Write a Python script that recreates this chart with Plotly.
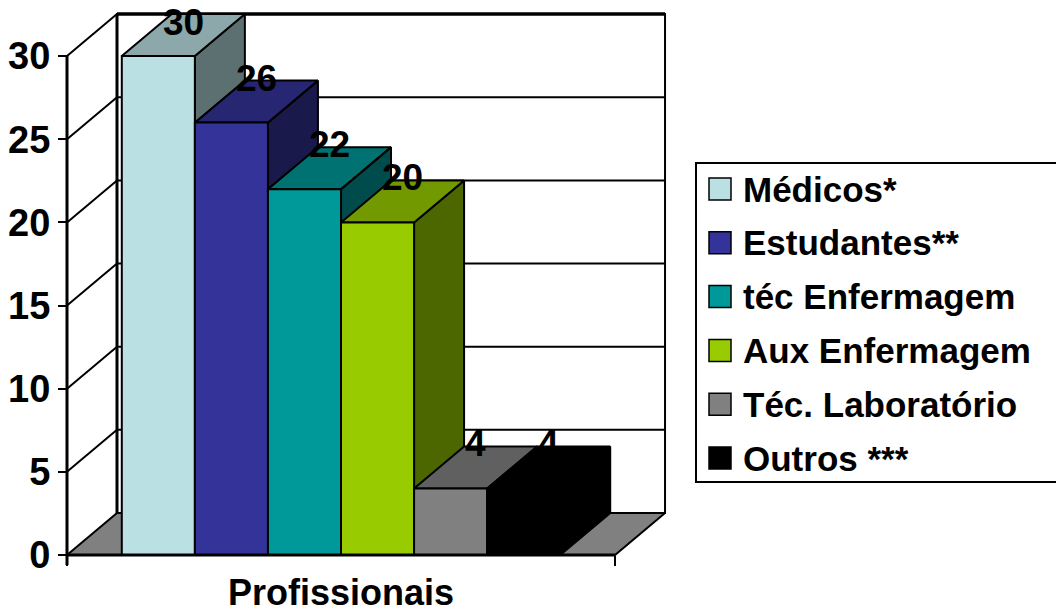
import plotly.graph_objects as go

# ---------------- data ----------------
categories = ["Médicos*", "Estudantes**", "téc Enfermagem", "Aux Enfermagem",
              "Téc. Laboratório", "Outros ***"]
values = [30, 26, 22, 20, 4, 4]
value_labels = ["30", "26", "22", "20", "4", "4"]
colors = ["#BBE0E3", "#333399", "#009999", "#99CC00", "#808080", "#000000"]
y_ticks = [0, 5, 10, 15, 20, 25, 30]
x_title = "Profissionais"

# ---------------- geometry (layout only) ----------------
W, H = 1056, 613
PX0, PXU = 67.0, 73.07      # pixel of x=0, pixels per x unit
PY0, PYU = 555.0, 16.63     # pixel of y=0, pixels per y unit
X_RANGE = [(0 - PX0) / PXU, (W - PX0) / PXU]
Y_RANGE = [(PY0 - H) / PYU, PY0 / PYU]
DX = 50 / PXU               # depth offset (x units)
DY = 42 / PYU               # depth offset (y units)
GAP = 0.75
NB = len(values)
FLOOR_W = NB + 2 * GAP
YMAX = max(y_ticks)
FONT = "Liberation Sans, Arial, sans-serif"


def shade(hexcol, f):
    h = hexcol.lstrip("#")
    r, g, b = (int(h[i:i + 2], 16) for i in (0, 2, 4))
    return "#%02X%02X%02X" % (int(r * f), int(g * f), int(b * f))


fig = go.Figure()


def poly(xs, ys, fill, lw=2, color="black"):
    fig.add_trace(go.Scatter(
        x=list(xs) + [xs[0]], y=list(ys) + [ys[0]], mode="lines",
        fill="toself", fillcolor=fill, line=dict(color=color, width=lw),
        hoverinfo="skip", showlegend=False))


def line(xs, ys, lw=2):
    fig.add_trace(go.Scatter(x=xs, y=ys, mode="lines",
                             line=dict(color="black", width=lw),
                             hoverinfo="skip", showlegend=False))


# back wall
poly([DX, FLOOR_W + DX, FLOOR_W + DX, DX],
     [DY, DY, YMAX + DY, YMAX + DY], "white", lw=2)
line([DX, FLOOR_W + DX], [YMAX + DY, YMAX + DY], lw=3.5)
line([DX, DX], [DY, YMAX + DY], lw=3)
for v in y_ticks[1:-1]:
    line([DX, FLOOR_W + DX], [v + DY, v + DY], lw=2)
# left wall gridlines
for v in y_ticks[1:]:
    line([0, DX], [v, v + DY], lw=2)

# floor
poly([0, FLOOR_W, FLOOR_W + DX, DX], [0, 0, DY, DY], "#808080", lw=2)

# bars
for i, (v, c) in enumerate(zip(values, colors)):
    x0 = GAP + i
    x1 = x0 + 1
    poly([x1, x1 + DX, x1 + DX, x1], [0, DY, v + DY, v], shade(c, 0.5))
    poly([x0, x1, x1 + DX, x0 + DX], [v, v, v + DY, v + DY], shade(c, 0.75))
    poly([x0, x1, x1, x0], [0, 0, v, v], c)

# front vertical axis line and front floor edge
line([0, 0], [-0.6, YMAX], lw=3)
line([0, FLOOR_W], [0, 0], lw=3)

# value labels
LAB_SHIFT = 1 / PYU
LAB_MAX = (PY0 - 45) / PYU
for i, (v, t) in enumerate(zip(values, value_labels)):
    xc = GAP + i + 0.5 + DX / 2
    yl = min(v + DY / 2 + LAB_SHIFT, LAB_MAX)
    fig.add_annotation(x=xc, y=yl, xref="x", yref="y", text=t, showarrow=False,
                       xanchor="center", yanchor="bottom",
                       font=dict(family=FONT, size=37, color="black", weight="bold"))

# axis title
fig.add_annotation(x=FLOOR_W / 2, y=0, xref="x", yref="paper", yshift=-2,
                   text=x_title, showarrow=False, xanchor="center", yanchor="bottom",
                   font=dict(family=FONT, size=36, color="black", weight="bold"))

# legend (manual, Excel style)
LX0, LY0, LX1, LY1 = 696, 163, 1060, 482
fig.add_shape(type="rect", xref="paper", yref="paper",
              x0=LX0 / W, x1=LX1 / W, y0=1 - LY1 / H, y1=1 - LY0 / H,
              line=dict(color="black", width=2), fillcolor="white", layer="below")
row0, rstep = 189, 53.8
for i, (name, c) in enumerate(zip(categories, colors)):
    yc = row0 + i * rstep
    fig.add_shape(type="rect", xref="paper", yref="paper",
                  x0=709 / W, x1=731 / W, y0=1 - (yc + 11) / H, y1=1 - (yc - 11) / H,
                  line=dict(color="black", width=1.5), fillcolor=c)
    fig.add_annotation(x=741 / W, y=1 - yc / H, xref="paper", yref="paper",
                       text=name, showarrow=False, xanchor="left", yanchor="middle",
                       font=dict(family=FONT, size=35, color="black", weight="bold"))

fig.update_layout(
    width=W, height=H, margin=dict(l=0, r=0, t=0, b=0),
    paper_bgcolor="white", plot_bgcolor="white", showlegend=False,
    xaxis=dict(range=X_RANGE, showgrid=False, zeroline=False, showline=False,
               tickvals=[0, FLOOR_W], ticks="outside", ticklen=10, tickwidth=2,
               tickcolor="black", showticklabels=False, anchor="free",
               position=(H - PY0) / H, fixedrange=True),
    yaxis=dict(range=Y_RANGE, showgrid=False, zeroline=False, showline=False,
               tickvals=y_ticks, ticktext=[str(t) for t in y_ticks],
               ticks="outside", ticklen=9, tickwidth=2, tickcolor="black",
               tickfont=dict(family=FONT, size=38, color="black", weight="bold"),
               anchor="free", position=PX0 / W, fixedrange=True),
)

fig.write_html("out.html")
